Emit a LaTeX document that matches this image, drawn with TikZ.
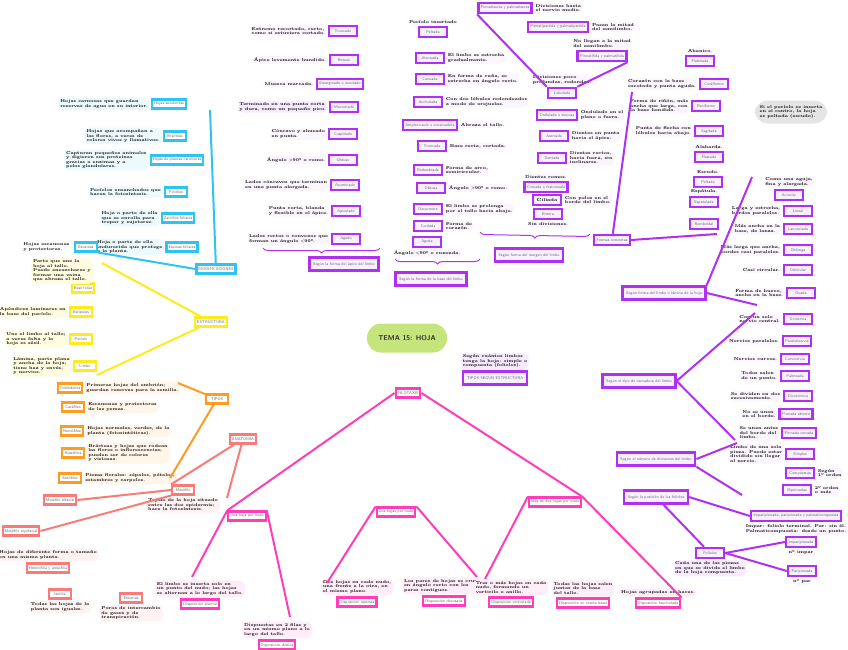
\documentclass[tikz,border=0pt]{standalone}
\usetikzlibrary{positioning, decorations.pathreplacing}
\definecolor{hojaCyan}{HTML}{2EC4F2}
\definecolor{hojaYellow}{HTML}{FFEB1A}
\definecolor{hojaOrange}{HTML}{FF9B21}
\definecolor{hojaCoral}{HTML}{FA7A78}
\definecolor{hojaPink}{HTML}{FF3DB8}
\definecolor{hojaViolet}{HTML}{B030F2}
\definecolor{hojaGreen}{HTML}{C6E47C}
\definecolor{violetTint}{HTML}{F8F0FF}
\definecolor{labelGray}{HTML}{6A6A6A}
\definecolor{cloudGray}{HTML}{E4E4E4}
\tikzset{
  boxCyan/.style={rectangle, draw=hojaCyan, line width=2.1pt, fill=white, text=labelGray,
                  font=\fontsize{4}{4.6}\selectfont\sffamily, inner sep=2pt,
                  minimum height=9pt, minimum width=22pt},
  boxYellow/.style={rectangle, draw=hojaYellow, line width=2.1pt, fill=white, text=labelGray,
                    font=\fontsize{4}{4.6}\selectfont\sffamily, inner sep=2pt,
                    minimum height=9pt, minimum width=22pt},
  boxOrange/.style={rectangle, draw=hojaOrange, line width=2.1pt, fill=white, text=labelGray,
                    font=\fontsize{4}{4.6}\selectfont\sffamily, inner sep=2pt,
                    minimum height=9pt, minimum width=22pt},
  boxCoral/.style={rectangle, draw=hojaCoral, line width=2.1pt, fill=white, text=labelGray,
                   font=\fontsize{4}{4.6}\selectfont\sffamily, inner sep=2pt,
                   minimum height=9pt, minimum width=22pt},
  boxPink/.style={rectangle, draw=hojaPink, line width=2.1pt, fill=white, text=labelGray,
                  font=\fontsize{4}{4.6}\selectfont\sffamily, inner sep=2pt,
                  minimum height=9pt, minimum width=22pt},
  boxViolet/.style={rectangle, draw=hojaViolet, line width=2.5pt, fill=violetTint, text=labelGray,
                    font=\fontsize{4}{4.6}\selectfont\sffamily, inner sep=2.4pt,
                    minimum height=10pt, minimum width=28pt},
  hubViolet/.style={boxViolet, inner sep=3.6pt, minimum height=13pt},
  notaCyan/.style={align=left, font=\fontsize{4.2}{4.5}\selectfont\bfseries, inner sep=2pt,
                   fill=hojaCyan!9, rounded corners=5pt},
  notaYellow/.style={align=left, font=\fontsize{4.2}{4.5}\selectfont\bfseries, inner sep=2pt,
                     fill=hojaYellow!13, rounded corners=5pt},
  notaOrange/.style={align=left, font=\fontsize{4.2}{4.5}\selectfont\bfseries, inner sep=2pt,
                     fill=hojaOrange!10, rounded corners=5pt},
  notaCoral/.style={align=left, font=\fontsize{4.2}{4.5}\selectfont\bfseries, inner sep=2pt,
                    fill=hojaCoral!10, rounded corners=5pt},
  notaPink/.style={align=left, font=\fontsize{4.2}{4.5}\selectfont\bfseries, inner sep=2pt,
                   fill=hojaPink!9, rounded corners=5pt},
  notaViolet/.style={align=left, font=\fontsize{4.2}{4.5}\selectfont\bfseries, inner sep=1.5pt,
                     fill=hojaViolet!5, rounded corners=5pt},
  lineCyan/.style={hojaCyan, line width=2pt},
  lineYellow/.style={hojaYellow, line width=2pt},
  lineOrange/.style={hojaOrange, line width=2pt},
  lineCoral/.style={hojaCoral, line width=2pt},
  linePink/.style={hojaPink, line width=2pt},
  lineViolet/.style={hojaViolet, line width=2pt},
  braceViolet/.style={decorate, decoration={brace, mirror, amplitude=5pt}, hojaViolet, line width=1pt},
  tema/.style={fill=hojaGreen, rounded corners=14pt, minimum width=80pt, minimum height=29pt,
               font=\fontsize{7}{8}\selectfont\sffamily\bfseries, text=black!80},
  nube/.style={fill=cloudGray, rounded corners=13pt, align=left, inner sep=5pt,
               font=\fontsize{4.2}{4.5}\selectfont\bfseries},
}
\begin{document}
\begin{tikzpicture}[x=1pt, y=-1pt, node distance=1pt]
  \useasboundingbox (0,0) rectangle (848,649);
  \node[tema] (tema) at (407,338) {TEMA 15: HOJA};

  % modificaciones
  \node[boxCyan] (mod) at (216,269) {MODIFICACIONES};
  \node[boxCyan] (mod1) at (169,104) {Hojas suculentas};
  \node[notaCyan, left=of mod1] {Hojas carnosas que guardan\\ reservas de agua en su interior.};
  \node[boxCyan] (mod2) at (175,136) {Brácteas};
  \node[notaCyan, left=of mod2] {Hojas que acompañan a\\ las flores, a veces de\\ colores vivos y llamativos.};
  \node[boxCyan] (mod3) at (177,160) {Hojas de plantas carnívoras};
  \node[notaCyan, left=of mod3] {Capturan pequeños animales\\ y digieren sus proteínas\\ gracias a enzimas y a\\ pelos glandulares.};
  \node[boxCyan] (mod4) at (176,192) {Filodios};
  \node[notaCyan, left=of mod4] {Pecíolos ensanchados que\\ hacen la fotosíntesis.};
  \node[boxCyan] (mod5) at (178,218) {Zarcillos foliares};
  \node[notaCyan, left=of mod5] {Hoja o parte de ella\\ que se enrolla para\\ trepar y sujetarse.};
  \node[boxCyan] (mod6) at (182,247) {Espinas foliares};
  \node[notaCyan, left=of mod6] {Hoja o parte de ella\\ endurecida que protege\\ a la planta.};
  \node[boxCyan] (mod7) at (86,247) {Escamas};
  \node[align=left, font=\fontsize{4.2}{4.5}\selectfont\bfseries, left=of mod7] {Hojas escamosas\\ y protectoras.};
  \coordinate (modTop) at (210,110);
  \draw[lineCyan] (mod) -- (modTop);
  \draw[lineCyan] (mod.west) -- (mod7.south east);

  % estructura
  \node[boxYellow] (est) at (211,322) {ESTRUCTURA};
  \node[boxYellow] (est1) at (83,288) {Base foliar};
  \node[notaYellow, anchor=south east] at (93,284) {Parte que une la\\ hoja al tallo.\\ Puede ensancharse y\\ formar una vaina\\ que abraza el tallo.};
  \node[boxYellow] (est2) at (81,312) {Estípulas};
  \node[notaYellow, left=of est2] {Apéndices laminares en\\ la base del pecíolo.};
  \node[boxYellow] (est3) at (81,339) {Pecíolo};
  \node[notaYellow, left=of est3] {Une el limbo al tallo;\\ a veces falta y la\\ hoja es sésil.};
  \node[boxYellow] (est4) at (85,366) {Limbo};
  \node[notaYellow, left=of est4] {Lámina, parte plana\\ y ancha de la hoja;\\ tiene haz y envés,\\ y nervios.};
  \coordinate (estTop) at (102,263);
  \coordinate (estBot) at (97,375);
  \draw[lineYellow] (est) -- (estTop);
  \draw[lineYellow] (est) -- (estBot);

  % tipos
  \node[boxOrange] (tip) at (217,399) {TIPOS};
  \node[boxOrange] (tip1) at (70,388) {Cotiledones};
  \node[notaOrange, right=of tip1] {Primeras hojas del embrión;\\ guardan reservas para la semilla.};
  \node[boxOrange] (tip2) at (73,407) {Catáfilos};
  \node[notaOrange, right=of tip2] {Escamosas y protectoras\\ de las yemas.};
  \node[boxOrange] (tip3) at (72,431) {Nomófilos};
  \node[notaOrange, right=of tip3] {Hojas normales, verdes, de la\\ planta (fotosintéticas).};
  \node[boxOrange] (tip4) at (73,453) {Hipsófilos};
  \node[notaOrange, right=of tip4] {Brácteas y hojas que rodean\\ las flores o inflorescencias;\\ pueden ser de colores\\ y vistosas.};
  \node[boxOrange] (tip5) at (70,478) {Antófilos};
  \node[notaOrange, right=of tip5] {Piezas florales: sépalos, pétalos,\\ estambres y carpelos.};
  \coordinate (tipTop) at (178,383);
  \coordinate (tipBot) at (170,478);
  \draw[lineOrange] (tip) -- (tipTop);
  \draw[lineOrange] (tip) -- (tipBot);

  % anatomia
  \node[boxCoral] (ana) at (243,439) {ANATOMÍA};
  \node[boxCoral] (ana1) at (183,490) {Mesófilo};
  \node[notaCoral, below=of ana1] {Tejido de la hoja situado\\ entre las dos epidermis;\\ hace la fotosíntesis.};
  \node[boxCoral] (ana2) at (60,500) {Mesófilo bifacial};
  \node[boxCoral] (ana3) at (21,531) {Mesófilo equifacial};
  \coordinate (anaBot) at (227,498);
  \draw[lineCoral] (ana) -- (ana1.north west);
  \draw[lineCoral] (ana) -- (anaBot);
  \draw[lineCoral] (ana1.west) -- (ana2.east);
  \draw[lineCoral] (ana1.south west) -- (ana3.east);
  \node[boxCoral] (het) at (48,568) {Heterofilia y anisofilia};
  \node[notaCoral, above=of het] {Hojas de diferente forma o tamaño\\ en una misma planta.};
  \node[boxCoral] (isf) at (60,594) {Isofilia};
  \node[notaCoral, below=of isf] {Todas las hojas de la\\ planta son iguales.};
  \node[boxCoral] (esto) at (131,598) {Estomas};
  \node[notaCoral, below=of esto] {Poros de intercambio\\ de gases y de\\ transpiración.};

  % filotaxis
  \node[boxPink] (fil) at (408,393) {FILOTAXIS};
  \node[boxPink] (fil1) at (247,516) {Una hoja por nudo};
  \node[boxPink] (fil2) at (396,512) {Dos hojas por nudo};
  \node[boxPink] (fil3) at (555,502) {Más de dos hojas por nudo};
  \node[boxPink] (fa) at (200,604) {Disposición alterna};
  \node[notaPink, above=of fa] {El limbo se inserta solo en\\ un punto del nudo; las hojas\\ se alternan a lo largo del tallo.};
  \node[boxPink] (fd) at (277,645) {Disposición dística};
  \node[notaPink, above=of fd] {Dispuestas en 2 filas y\\ en un mismo plano a lo\\ largo del tallo.};
  \node[boxPink] (fo) at (357,602) {Disposición opuesta};
  \node[notaPink, above=of fo] {Dos hojas en cada nudo,\\ una frente a la otra, en\\ el mismo plano.};
  \node[boxPink] (fc) at (444,601) {Disposición decusada};
  \node[notaPink, above=of fc] {Los pares de hojas se cruzan\\ en ángulo recto con los\\ pares contiguos.};
  \node[boxPink] (fv) at (511,602) {Disposición verticilada};
  \node[notaPink, above=of fv] {Tres o más hojas en cada\\ nudo, formando un\\ verticilo o anillo.};
  \node[boxPink] (fr) at (583,603) {Disposición en roseta basal};
  \node[notaPink, above=of fr] {Todas las hojas salen\\ juntas de la base\\ del tallo.};
  \node[boxPink] (ff) at (658,603) {Disposición fasciculada};
  \node[notaPink, above=of ff] {Hojas agrupadas en haces.};
  \coordinate (faTop) at (192,577);
  \coordinate (fdTop) at (290,617);
  \coordinate (foTop) at (327,583);
  \coordinate (fcTop) at (477,577);
  \coordinate (fvTop) at (485,579);
  \draw[linePink] (fil.west) -- (fil1.north west);
  \draw[linePink] (fil.east) -- (fil3.north east);
  \draw[linePink] (fil1.north west) -- (faTop);
  \draw[linePink] (fil1.north east) -- (fdTop);
  \draw[linePink] (fil2.north west) -- (foTop);
  \draw[linePink] (fil2.north east) -- (fcTop);
  \draw[linePink] (fil3.north west) -- (fvTop);
  \draw[linePink] (fil3.north east) -- (ff.north east);

  % tipos segun estructura
  \node[hubViolet] (tse) at (495,378) {TIPOS SEGÚN ESTRUCTURA};
  \node[notaViolet, fill=hojaViolet!10, above=of tse] {Según cuántos limbos\\ tenga la hoja: simple o\\ compuesta (foliolos).};

  % apice
  \node[hubViolet] (apx) at (344,264) {Según la forma del ápice del limbo};
  \node[boxViolet] (apx1) at (343,31) {Truncado};
  \node[notaViolet, left=of apx1] {Extremo recortado, recto,\\ como si estuviera cortado.};
  \node[boxViolet] (apx2) at (344,60) {Retuso};
  \node[notaViolet, left=of apx2] {Ápice levemente hundido.};
  \node[boxViolet] (apx3) at (340,84) {Emarginado o escotado};
  \node[notaViolet, left=of apx3] {Muesca marcada.};
  \node[boxViolet] (apx4) at (344,107) {Mucronado};
  \node[notaViolet, fill=hojaViolet!10, left=of apx4] {Terminado en una punta corta\\ y dura, como un pequeño pico.};
  \node[boxViolet] (apx5) at (343,134) {Cuspidado};
  \node[notaViolet, left=of apx5] {Cóncavo y ahusado\\ en punta.};
  \node[boxViolet] (apx6) at (343,160) {Obtuso};
  \node[notaViolet, left=of apx6] {Ángulo >90° o romo.};
  \node[boxViolet] (apx7) at (345,185) {Acuminado};
  \node[notaViolet, left=of apx7] {Lados cóncavos que terminan\\ en una punta alargada.};
  \node[boxViolet] (apx8) at (346,211) {Apiculado};
  \node[notaViolet, left=of apx8] {Punta corta, blanda\\ y flexible en el ápice.};
  \node[boxViolet] (apx9) at (346,239) {Agudo};
  \node[notaViolet, left=of apx9] {Lados rectos o convexos que\\ forman un ángulo <90°.};
  \draw[braceViolet] (263,248) -- (380,248);

  % base
  \node[hubViolet] (bas) at (431,279) {Según la forma de la base del limbo};
  \node[boxViolet] (bas1) at (433,32) {Peltada};
  \node[notaViolet, above=of bas1] {Pecíolo insertado};
  \node[boxViolet] (bas2) at (430,58) {Atenuada};
  \node[notaViolet, right=of bas2] {El limbo se estrecha\\ gradualmente.};
  \node[boxViolet] (bas3) at (430,79) {Cuneada};
  \node[notaViolet, right=of bas3] {En forma de cuña, se\\ estrecha en ángulo recto.};
  \node[boxViolet] (bas4) at (428,102) {Auriculada};
  \node[notaViolet, right=of bas4] {Con dos lóbulos redondeados\\ a modo de orejuelas.};
  \node[boxViolet] (bas5) at (430,125) {Amplexicaule o envainadora};
  \node[notaViolet, right=of bas5] {Abraza el tallo.};
  \node[boxViolet] (bas6) at (432,146) {Truncada};
  \node[notaViolet, right=of bas6] {Base recta, cortada.};
  \node[boxViolet] (bas7) at (428,170) {Redondeada};
  \node[notaViolet, right=of bas7] {Forma de arco,\\ semicircular.};
  \node[boxViolet] (bas8) at (431,188) {Obtusa};
  \node[notaViolet, right=of bas8] {Ángulo >90° o romo.};
  \node[boxViolet] (bas9) at (428,209) {Decurrente};
  \node[notaViolet, right=of bas9] {El limbo se prolonga\\ por el tallo hacia abajo.};
  \node[boxViolet] (bas10) at (428,226) {Cordada};
  \node[notaViolet, right=of bas10] {Forma de\\ corazón.};
  \node[boxViolet] (bas11) at (427,242) {Aguda};
  \node[notaViolet, below=of bas11] {Ángulo <90° o cuneada.};
  \draw[braceViolet] (395,259) -- (480,259);

  % margen
  \node[hubViolet] (mar) at (529,255) {Según forma del margen del limbo};
  \node[boxViolet] (mar1) at (505,8) {Pinnatisecta y palmatisecta};
  \node[notaViolet, right=of mar1] {Divisiones hasta\\ el nervio medio.};
  \node[boxViolet] (mar2) at (558,27) {Pinnatipartida y palmatipartida};
  \node[notaViolet, right=of mar2] {Pasan la mitad\\ del semilimbo.};
  \node[boxViolet] (mar3) at (602,56) {Pinnatífida y palmatífida};
  \node[notaViolet, above=of mar3] {No llegan a la mitad\\ del semilimbo.};
  \node[boxViolet] (mar4) at (562,93) {Lobulada};
  \node[notaViolet, above=of mar4] {Divisiones poco\\ profundas, redondas.};
  \node[boxViolet] (mar5) at (557,115) {Ondulada o sinuosa};
  \node[notaViolet, right=of mar5] {Ondulado en el\\ plano o fuera.};
  \node[boxViolet] (mar6) at (554,136) {Aserrada};
  \node[notaViolet, right=of mar6] {Dientes en punta\\ hacia el ápice.};
  \node[boxViolet] (mar7) at (552,158) {Dentada};
  \node[notaViolet, right=of mar7] {Dientes rectos,\\ hacia fuera, sin\\ inclinarse.};
  \node[boxViolet] (mar8) at (546,187) {Crenada o festoneada};
  \node[notaViolet, above=of mar8] {Dientes romos.};
  \node[boxViolet, text=black, font=\fontsize{4.4}{5}\selectfont\bfseries] (mar9) at (547,200) {Ciliada};
  \node[notaViolet, right=of mar9] {Con pelos en el\\ borde del limbo.};
  \node[boxViolet] (mar10) at (548,214) {Entera};
  \node[notaViolet, below=of mar10] {Sin divisiones.};
  \draw[lineViolet] (mar4.north west) -- (mar1.south west);
  \draw[lineViolet] (mar4.north east) -- (mar3.south east);
  \draw[braceViolet] (480,232) -- (590,234);

  % formas concretas
  \node[boxViolet] (fcon) at (612,240) {Formas concretas};
  \node[boxViolet] (fc1) at (700,61) {Flabelada};
  \node[notaViolet, above=of fc1] {Abanico.};
  \node[boxViolet] (fc2) at (714,84) {Cordiforme};
  \node[notaViolet, left=of fc2] {Corazón con la base\\ escotada y punta aguda.};
  \node[boxViolet] (fc3) at (706,106) {Reniforme};
  \node[notaViolet, left=of fc3] {Forma de riñón, más\\ ancha que larga, con\\ la base hendida.};
  \node[boxViolet] (fc4) at (709,131) {Sagitada};
  \node[notaViolet, left=of fc4] {Punta de flecha con\\ lóbulos hacia abajo.};
  \node[boxViolet] (fc5) at (709,157) {Hastada};
  \node[notaViolet, above=of fc5] {Alabarda.};
  \node[boxViolet] (fc6) at (708,182) {Peltada};
  \node[notaViolet, above=of fc6] {Escudo.};
  \node[boxViolet] (fc7) at (704,202) {Espatulada};
  \node[notaViolet, above=of fc7] {Espátula.};
  \node[boxViolet] (fc8) at (704,224) {Romboidal};
  \coordinate (fconTop) at (632,92);
  \coordinate (fconEnd) at (717,234);
  \draw[lineViolet] (fcon) -- (fconTop);
  \draw[lineViolet] (fcon.east) -- (fconEnd);
  \node[nube] (nube) at (791,112) {Si el pecíolo se inserta\\ en el centro, la hoja\\ es peltada (escudo).};

  % forma del limbo
  \node[hubViolet] (lim) at (664,293) {Según forma del limbo o lámina de la hoja};
  \node[boxViolet] (lim1) at (789,195) {Acicular};
  \node[notaViolet, above=of lim1] {Como una aguja,\\ fina y alargada.};
  \node[boxViolet] (lim2) at (798,211) {Lineal};
  \node[notaViolet, left=of lim2] {Larga y estrecha,\\ bordes paralelos.};
  \node[boxViolet] (lim3) at (798,229) {Lanceolada};
  \node[notaViolet, left=of lim3] {Más ancha en la\\ base, de lanza.};
  \node[boxViolet] (lim4) at (798,250) {Oblonga};
  \node[notaViolet, left=of lim4] {Más larga que ancha,\\ bordes casi paralelos.};
  \node[boxViolet] (lim5) at (798,270) {Orbicular};
  \node[notaViolet, left=of lim5] {Casi circular.};
  \node[boxViolet] (lim6) at (801,293) {Ovada};
  \node[notaViolet, left=of lim6] {Forma de huevo,\\ ancha en la base.};
  \coordinate (limTop) at (752,177);
  \coordinate (limBot) at (757,305);
  \draw[lineViolet] (lim.north east) -- (limTop);
  \draw[lineViolet] (lim.east) -- (limBot);

  % nervadura
  \node[hubViolet] (ner) at (639,381) {Según el tipo de nervadura del limbo};
  \node[boxViolet] (ner1) at (798,319) {Uninervia};
  \node[notaViolet, left=of ner1] {Con un solo\\ nervio central.};
  \node[boxViolet] (ner2) at (797,341) {Paralelinervia};
  \node[notaViolet, left=of ner2] {Nervios paralelos.};
  \node[boxViolet] (ner3) at (795,359) {Curvinervia};
  \node[notaViolet, left=of ner3] {Nervios curvos.};
  \node[boxViolet] (ner4) at (795,376) {Palmeada};
  \node[notaViolet, left=of ner4] {Todos salen\\ de un punto.};
  \node[boxViolet] (ner5) at (798,396) {Dicotómica};
  \node[notaViolet, left=of ner5] {Se dividen en dos\\ sucesivamente.};
  \node[boxViolet] (ner6) at (796,414) {Pinnada abierta};
  \node[notaViolet, left=of ner6] {No se unen\\ en el borde.};
  \node[boxViolet] (ner7) at (799,433) {Pinnada cerrada};
  \node[notaViolet, left=of ner7] {Se unen antes\\ del borde del\\ limbo.};
  \coordinate (nerTop) at (755,313);
  \coordinate (nerBot) at (735,440);
  \draw[lineViolet] (ner.east) -- (nerTop);
  \draw[lineViolet] (ner.east) -- (nerBot);

  % divisiones
  \node[hubViolet] (div) at (656,459) {Según el número de divisiones del limbo};
  \node[boxViolet] (div1) at (800,454) {Simples};
  \node[notaViolet, left=of div1] {Limbo de una sola\\ pieza. Puede estar\\ dividido sin llegar\\ al nervio.};
  \node[boxViolet] (div2) at (800,473) {Compuestas};
  \node[notaViolet, right=of div2] {Según\\ 1º orden};
  \node[boxViolet] (div3) at (797,490) {Bipinnadas};
  \node[notaViolet, right=of div3] {2º orden\\ o más};
  \coordinate (divTop) at (737,443);
  \coordinate (divBot) at (742,495);
  \draw[lineViolet] (div.east) -- (divTop);
  \draw[lineViolet] (div.south east) -- (divBot);

  % foliolos
  \node[hubViolet] (pos) at (656,497) {Según la posición de los foliolos};
  \node[boxViolet] (pos1) at (796,516) {Imparipinnada, paripinnada y palmaticompuesta};
  \node[notaViolet, below=of pos1] {Impar: foliolo terminal. Par: sin él.\\ Palmaticompuesta: desde un punto.};
  \node[boxViolet] (pos2) at (710,553) {Foliolos};
  \node[notaViolet, fill=hojaViolet!10, below=of pos2] {Cada una de las piezas\\ en que se divide el limbo\\ de la hoja compuesta.};
  \node[boxViolet] (pos3) at (801,542) {Imparipinnada};
  \node[notaViolet, below=of pos3] {nº impar};
  \node[boxViolet] (pos4) at (802,571) {Paripinnada};
  \node[notaViolet, below=of pos4] {nº par};
  \draw[lineViolet] (pos.east) -- (pos1.west);
  \draw[lineViolet] (pos) -- (pos2);
  \draw[lineViolet] (pos2.east) -- (pos3.west);
  \draw[lineViolet] (pos2.east) -- (pos4.west);
\end{tikzpicture}
\end{document}
